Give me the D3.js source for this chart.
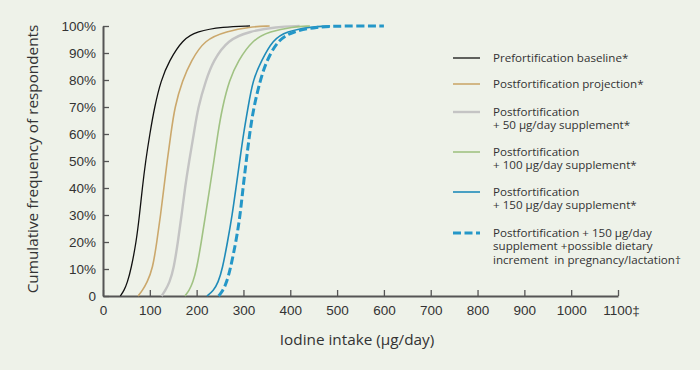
<!DOCTYPE html>
<html>
<head>
<meta charset="utf-8">
<script src="https://cdn.jsdelivr.net/npm/d3@7"></script>
<style>
  body { margin: 0; background: #eef2e9; }
  svg { display: block; font-family: "Open Sans", sans-serif; }
  .axis text { fill: #333; font-size: 13.5px; }
  .axis path, .axis line { stroke: #555; }
  .legend text { fill: #333; font-size: 11.6px; white-space: pre; }
  .title { fill: #333; font-size: 15.3px; }
</style>
</head>
<body>
<svg id="chart" width="700" height="370"></svg>
<script>
// cumulative percentage levels shared by every curve
var levels = [0, 2, 5, 10, 20, 30, 40, 50, 60, 70, 80, 87, 95, 98, 99.7, 100];

// iodine intake (ug/day) reached at each level
var baseline   = [37, 45, 52, 60, 71, 78, 84, 91, 100, 110, 124, 141, 170, 200, 256, 314];
var projection = [75, 84, 94, 106, 115, 123, 130, 137, 145, 153, 170, 188, 217, 264, 313, 356];
var supp50     = [125, 133, 142, 151, 160, 168, 175, 184, 194, 203, 220, 235, 267, 313, 370, 420];
var supp100    = [175, 184, 192, 200, 210, 219, 228, 237, 245, 255, 270, 288, 320, 356, 405, 442];
var supp150    = [222, 236, 246, 255, 266, 276, 284, 292, 300, 310, 320, 338, 363, 392, 442, 485];
var pregnancy  = [247, 256, 264, 272, 284, 293, 299, 306, 313, 322, 336, 349, 374, 406, 456, 506, 600];

var xTicks = [0, 100, 200, 300, 400, 500, 600, 700, 800, 900, 1000, 1100];
var yTicks = [0, 10, 20, 30, 40, 50, 60, 70, 80, 90, 100];

var series = [
  { label: ["Prefortification baseline*"], values: baseline, color: "#111", width: 1.3 },
  { label: ["Postfortification projection*"], values: projection, color: "#cba86c", width: 1.6 },
  { label: ["Postfortification", "+ 50 \u00b5g/day supplement*"], values: supp50, color: "#c4c4c4", width: 2.4 },
  { label: ["Postfortification", "+ 100 \u00b5g/day supplement*"], values: supp100, color: "#a0c283", width: 1.6 },
  { label: ["Postfortification", "+ 150 \u00b5g/day supplement*"], values: supp150, color: "#1f8bb9", width: 1.6 },
  { label: ["Postfortification + 150 \u00b5g/day", "supplement +possible dietary", "increment  in pregnancy/lactation\u2020"],
    values: pregnancy, color: "#2497c8", width: 3, dash: "8,3.5" }
];

var svg = d3.select("#chart");
var x = d3.scaleLinear().domain([0, 1100]).range([103, 618]);
var y = d3.scaleLinear().domain([0, 100]).range([296, 26]);

// x axis, ticks pointing up into the plot
var gx = svg.append("g").attr("class", "axis")
    .attr("transform", "translate(0,296)")
    .call(d3.axisBottom(x).tickValues(xTicks).tickSize(-6).tickSizeOuter(0).tickPadding(9)
      .tickFormat(function(d) { return d == 1100 ? "1100\u2021" : d; }));
gx.select(".domain").attr("stroke-width", 2);
gx.selectAll(".tick line").attr("stroke-width", 1.3);
gx.selectAll(".tick text").attr("dx", function(d) { return d == 1100 ? "3" : 0; });

// y axis, ticks pointing right
var gy = svg.append("g").attr("class", "axis")
    .attr("transform", "translate(103,0)")
    .call(d3.axisLeft(y).tickValues(yTicks).tickSize(-6).tickSizeOuter(0).tickPadding(7)
      .tickFormat(function(d) { return d == 0 ? "0" : d + "%"; }));
gy.select(".domain").attr("stroke-width", 2);
gy.selectAll(".tick line").attr("stroke-width", 1.3);

// axis titles
svg.append("text")
    .attr("class", "title")
    .attr("x", 357).attr("y", 345)
    .attr("text-anchor", "middle")
    .text("Iodine intake (\u00b5g/day)");
svg.append("text")
    .attr("class", "title")
    .attr("transform", "translate(38,159)rotate(-90)")
    .attr("text-anchor", "middle")
    .text("Cumulative frequency of respondents");

// the curves, smoothed so the read-off points don't show as corners
var line = d3.line()
    .x(function(d) { return x(d[0]); })
    .y(function(d) { return y(d[1]); })
    .curve(d3.curveBasis);

svg.append("g").selectAll("path")
    .data(series)
  .enter().append("path")
    .attr("fill", "none")
    .attr("stroke", function(s) { return s.color; })
    .attr("stroke-width", function(s) { return s.width; })
    .attr("stroke-dasharray", function(s) { return s.dash || null; })
    .attr("d", function(s) {
      return line(s.values.map(function(v, i) { return [v, i < levels.length ? levels[i] : 100]; }));
    });

// legend, one text per line
var legendY = [58, 84, 112, 152, 192, 233];
var legend = svg.append("g").attr("class", "legend")
  .selectAll("g")
    .data(series)
  .enter().append("g")
    .attr("transform", function(s, i) { return "translate(453," + legendY[i] + ")"; });

legend.append("line")
    .attr("x1", 0).attr("x2", 27)
    .attr("stroke", function(s) { return s.color; })
    .attr("stroke-width", function(s) { return s.width; })
    .attr("stroke-dasharray", function(s) { return s.dash || null; });

legend.selectAll("text")
    .data(function(s) { return s.label; })
  .enter().append("text")
    .attr("x", 40)
    .attr("y", function(d, i) { return i * 13.3; })
    .attr("dy", "0.35em")
    .text(function(d) { return d; });
</script>
</body>
</html>
